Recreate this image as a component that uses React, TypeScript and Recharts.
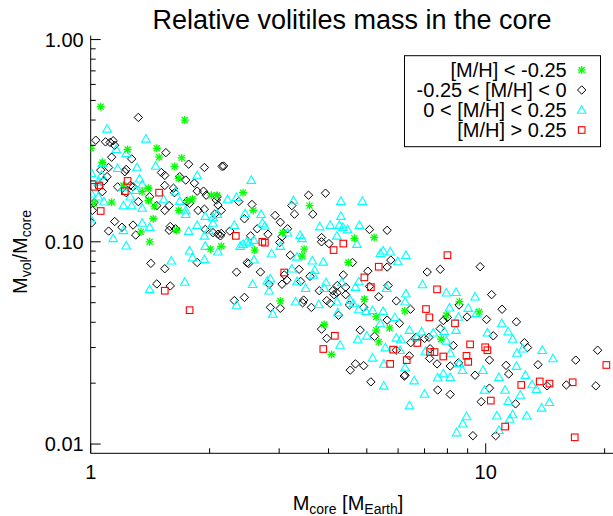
import { ScatterChart, Scatter, XAxis, YAxis } from "recharts";

const FONT = '"Liberation Sans", Arial, Helvetica, sans-serif';

// [M/H] < -0.25
const metalPoor: [number, number][] = [
  [1.06, 0.466], [1.73, 0.4], [1.24, 0.286], [1.47, 0.29], [1.49, 0.262], [1.07, 0.247],
  [1.7, 0.26], [1.63, 0.236], [1.67, 0.206], [1.4, 0.184], [1.35, 0.177], [1.21, 0.19],
  [1.13, 0.157], [1.02, 0.155], [1.45, 0.15], [1.4, 0.16], [1.76, 0.16], [1.81, 0.163],
  [2.02, 0.17], [2.09, 0.17], [2.43, 0.175], [2.58, 0.143], [1.67, 0.143], [1.44, 0.13],
  [1.0, 0.29], [3.58, 0.151], [1.34, 0.112], [1.41, 0.1], [1.65, 0.114], [2.01, 0.092],
  [2.14, 0.095], [2.6, 0.091], [3.06, 0.111], [3.47, 0.092], [3.43, 0.085], [3.02, 0.051],
  [3.9, 0.039], [4.07, 0.0277], [4.65, 0.104], [5.22, 0.105], [4.49, 0.079], [4.93, 0.052],
  [6.24, 0.0455], [5.28, 0.0425], [5.71, 0.0375], [5.28, 0.0366], [5.36, 0.032], [7.71, 0.033],
  [7.95, 0.0433], [8.58, 0.0506], [9.62, 0.045],
];

// -0.25 < [M/H] < 0
const metalLow: [number, number][] = [
  [1.32, 0.412], [1.03, 0.318], [1.09, 0.312], [1.14, 0.316], [1.12, 0.31], [1.15, 0.3],
  [1.13, 0.262], [1.27, 0.257], [1.55, 0.276], [1.77, 0.242], [1.94, 0.233], [2.15, 0.236],
  [2.17, 0.237], [1.11, 0.233], [1.23, 0.228], [1.22, 0.222], [1.06, 0.226], [1.1, 0.21],
  [1.08, 0.2], [1.05, 0.187], [1.07, 0.177], [1.17, 0.187], [1.26, 0.19], [1.28, 0.187],
  [1.23, 0.175], [1.51, 0.22], [1.54, 0.213], [1.68, 0.21], [1.74, 0.202], [1.83, 0.195],
  [1.86, 0.178], [1.93, 0.178], [1.96, 0.17], [2.08, 0.161], [2.1, 0.152], [2.14, 0.143],
  [2.06, 0.137], [1.94, 0.145], [1.62, 0.184], [1.63, 0.175], [1.54, 0.19], [1.41, 0.167],
  [1.32, 0.158], [2.37, 0.158], [2.56, 0.153], [2.45, 0.13], [2.93, 0.135], [3.02, 0.125],
  [1.15, 0.126], [1.28, 0.121], [1.2, 0.118], [1.02, 0.156], [1.01, 0.143], [1.005, 0.124],
  [1.47, 0.151], [1.54, 0.143], [1.58, 0.151], [1.75, 0.158], [1.78, 0.155], [1.87, 0.143],
  [2.09, 0.167], [3.56, 0.17], [3.93, 0.174], [3.23, 0.151], [3.28, 0.137], [3.65, 0.137],
  [3.15, 0.116], [5.08, 0.115], [5.63, 0.114], [1.11, 0.113], [1.3, 0.108], [1.59, 0.119],
  [1.64, 0.116], [1.58, 0.114], [1.95, 0.115], [2.04, 0.111], [2.1, 0.109], [2.14, 0.11],
  [2.13, 0.107], [2.25, 0.113], [2.54, 0.107], [2.64, 0.116], [2.81, 0.109], [3.05, 0.106],
  [3.01, 0.0993], [2.49, 0.0788], [2.51, 0.078], [2.34, 0.0708], [2.69, 0.0709], [3.2, 0.0859],
  [3.37, 0.0731], [3.4, 0.0637], [3.59, 0.0675], [3.09, 0.0686], [3.14, 0.0646], [3.05, 0.0617],
  [2.83, 0.0617], [2.45, 0.0531], [2.31, 0.0512], [2.85, 0.0474], [3.02, 0.0469], [3.46, 0.0515],
  [3.44, 0.0499], [3.62, 0.0474], [3.84, 0.105], [4.01, 0.098], [3.79, 0.0573], [3.96, 0.0512],
  [4.1, 0.0573], [4.13, 0.0548], [4.21, 0.0608], [1.42, 0.0782], [1.54, 0.0736], [1.47, 0.0619],
  [1.59, 0.0605], [1.86, 0.079], [3.84, 0.037], [3.96, 0.0333], [3.84, 0.1], [4.6, 0.079],
  [5.75, 0.0812], [5.63, 0.075], [5.03, 0.0716], [4.36, 0.0686], [4.42, 0.0597], [5.08, 0.0602],
  [5.66, 0.0608], [4.2, 0.056], [4.42, 0.0548], [4.04, 0.0496], [4.52, 0.0487], [4.91, 0.0474],
  [4.24, 0.0433], [5.36, 0.0535], [5.94, 0.051], [6.45, 0.0464], [4.81, 0.0366], [5.23, 0.0341],
  [5.63, 0.041], [6.05, 0.0395], [6.46, 0.0317], [7.11, 0.0709], [7.67, 0.0731], [9.68, 0.0753],
  [10.35, 0.0548], [11.0, 0.0464], [11.96, 0.0402], [10.05, 0.0413], [8.97, 0.0425], [8.56, 0.0487],
  [7.67, 0.0372], [7.18, 0.0337], [6.66, 0.0337], [5.94, 0.0291], [6.41, 0.0273], [6.25, 0.0219],
  [6.22, 0.0217], [7.21, 0.0265], [7.53, 0.0249], [8.13, 0.0243], [8.53, 0.0252], [9.4, 0.0219],
  [10.22, 0.026], [10.22, 0.0189], [11.26, 0.0245], [11.43, 0.0222], [12.53, 0.0317], [12.76, 0.03],
  [13.56, 0.0247], [14.3, 0.0194], [16.0, 0.0196], [16.9, 0.026], [19.0, 0.0194], [19.2, 0.0291],
  [11.9, 0.0158], [9.74, 0.0162], [9.28, 0.011], [10.6, 0.011], [4.54, 0.0232], [4.68, 0.0249],
  [4.91, 0.0244], [5.12, 0.0203], [7.56, 0.0185], [8.13, 0.0176], [7.0, 0.0333], [8.0, 0.0423],
  [7.81, 0.0408], [7.23, 0.0296], [10.45, 0.0343], [8.28, 0.0307],
];

// 0 < [M/H] < 0.25
const metalHigh: [number, number][] = [
  [1.1, 0.362], [1.38, 0.323], [1.16, 0.287], [1.23, 0.274], [1.07, 0.245], [1.17, 0.231],
  [1.31, 0.233], [1.46, 0.237], [1.005, 0.218], [1.065, 0.214], [1.21, 0.187], [1.33, 0.205],
  [1.35, 0.192], [1.3, 0.18], [1.64, 0.177], [1.86, 0.213], [2.55, 0.202], [2.34, 0.166],
  [2.22, 0.162], [1.68, 0.159], [1.53, 0.162], [1.08, 0.158], [1.21, 0.151], [1.27, 0.151],
  [1.35, 0.147], [1.74, 0.137], [1.74, 0.143], [1.95, 0.134], [2.04, 0.132], [2.09, 0.137],
  [2.7, 0.137], [2.46, 0.138], [1.86, 0.121], [2.04, 0.124], [2.31, 0.121], [2.72, 0.124],
  [1.35, 0.124], [1.045, 0.167], [1.045, 0.198], [1.0, 0.13], [1.26, 0.167], [1.005, 0.173],
  [3.26, 0.16], [4.3, 0.159], [4.87, 0.159], [4.3, 0.134], [3.8, 0.119], [4.04, 0.121],
  [4.26, 0.121], [4.79, 0.121], [4.35, 0.118], [4.47, 0.115], [1.41, 0.118], [1.21, 0.114],
  [1.14, 0.104], [1.23, 0.0956], [1.77, 0.113], [1.78, 0.0903], [1.81, 0.0836], [1.94, 0.0819],
  [1.94, 0.107], [1.95, 0.0953], [1.99, 0.114], [2.1, 0.0894], [2.39, 0.0953], [2.43, 0.0974],
  [2.48, 0.1], [2.52, 0.099], [2.59, 0.102], [2.76, 0.12], [2.87, 0.0874], [2.59, 0.0816],
  [2.57, 0.0617], [2.8, 0.0642], [2.85, 0.0657], [2.83, 0.0573], [2.89, 0.044], [2.34, 0.0487],
  [3.02, 0.0953], [3.15, 0.111], [3.23, 0.0736], [3.33, 0.0843], [3.39, 0.108], [3.43, 0.104],
  [3.33, 0.0637], [3.5, 0.059], [3.64, 0.0806], [3.69, 0.0725], [3.66, 0.0686], [3.88, 0.0796],
  [3.94, 0.063], [3.9, 0.059], [3.3, 0.0506], [3.78, 0.049], [4.2, 0.0506], [4.22, 0.0447],
  [4.2, 0.107], [1.41, 0.0582], [1.6, 0.0806], [1.73, 0.0633], [4.28, 0.0309], [4.72, 0.0974],
  [5.5, 0.0903], [5.73, 0.0894], [6.28, 0.0859], [5.99, 0.08], [5.41, 0.0877], [4.32, 0.063],
  [4.77, 0.0636], [4.68, 0.0597], [5.61, 0.059], [6.28, 0.0554], [6.25, 0.0506], [6.92, 0.0615],
  [7.95, 0.056], [8.41, 0.0563], [9.4, 0.0535], [9.03, 0.047], [9.47, 0.0443], [8.1, 0.0472],
  [4.54, 0.0515], [4.62, 0.0496], [4.98, 0.0454], [5.17, 0.0459], [5.5, 0.0454], [4.77, 0.0463],
  [5.0, 0.0343], [4.74, 0.0329], [5.41, 0.0395], [5.89, 0.0423], [5.57, 0.03], [5.17, 0.0267],
  [5.94, 0.0335], [6.1, 0.0329], [6.07, 0.0291], [6.41, 0.0366], [6.68, 0.0337], [6.25, 0.0239],
  [5.52, 0.0249], [6.59, 0.0206], [6.88, 0.0359], [7.03, 0.0287], [7.37, 0.0355], [7.85, 0.0362],
  [8.41, 0.0366], [8.53, 0.0425], [7.95, 0.0324], [8.13, 0.0282], [8.73, 0.0232], [8.57, 0.0251],
  [8.13, 0.0214], [7.81, 0.0223], [7.56, 0.0213], [7.0, 0.0177], [6.41, 0.0155], [5.52, 0.0194],
  [9.84, 0.0232], [9.93, 0.0185], [10.1, 0.0355], [10.98, 0.0395], [11.4, 0.036], [11.7, 0.0331],
  [12.4, 0.0296], [12.0, 0.0282], [11.96, 0.0243], [10.8, 0.0214], [11.2, 0.0185], [12.23, 0.0175],
  [12.6, 0.0219], [11.4, 0.0163], [13.1, 0.0197], [13.44, 0.0187], [14.5, 0.0161], [13.85, 0.0151],
  [14.8, 0.0265], [13.9, 0.0291], [10.67, 0.0138], [11.7, 0.014], [12.7, 0.0138], [11.5, 0.0133],
  [8.94, 0.0137], [8.75, 0.0126], [8.44, 0.0114], [10.8, 0.0117],
];

// [M/H] > 0.25
const metalRich: [number, number][] = [
  [1.02, 0.187], [1.05, 0.19], [1.24, 0.2], [1.22, 0.178], [1.49, 0.175], [1.06, 0.142],
  [1.54, 0.0573], [1.78, 0.0459], [2.33, 0.107], [2.72, 0.1], [2.76, 0.099], [3.09, 0.0705],
  [4.12, 0.091], [3.88, 0.0295], [4.15, 0.0343], [4.36, 0.098], [8.0, 0.0859], [5.36, 0.0753],
  [4.93, 0.0667], [5.12, 0.0597], [7.53, 0.0582], [7.06, 0.0465], [7.2, 0.0423], [6.71, 0.0316],
  [5.83, 0.0293], [5.73, 0.0249], [6.31, 0.026], [7.23, 0.0285], [7.42, 0.0285], [7.81, 0.0271],
  [8.36, 0.0395], [9.13, 0.0311], [9.97, 0.0301], [10.1, 0.0291], [8.94, 0.0273], [9.03, 0.0255],
  [10.3, 0.0164], [11.2, 0.0122], [12.3, 0.0196], [13.7, 0.0204], [14.5, 0.0199], [16.6, 0.0202],
  [16.8, 0.0108], [20.2, 0.0246],
];

const xTicks = [1, 2, 3, 4, 5, 6, 7, 8, 9, 10, 20];
const xMajor = [1, 10];
const yTicks = [
  0.01, 0.02, 0.03, 0.04, 0.05, 0.06, 0.07, 0.08, 0.09,
  0.1, 0.2, 0.3, 0.4, 0.5, 0.6, 0.7, 0.8, 0.9, 1,
];
const yMajor = [0.01, 0.1, 1];

const toPoints = (arr: [number, number][]) => arr.map(([x, y]) => ({ x, y }));

const Asterisk = ({ cx, cy }: any) => (
  <g stroke="#00ff00" strokeWidth={1.3}>
    <line x1={cx - 4} x2={cx + 4} y1={cy} y2={cy} />
    <line x1={cx} x2={cx} y1={cy - 4} y2={cy + 4} />
    <line x1={cx - 3} x2={cx + 3} y1={cy - 3} y2={cy + 3} />
    <line x1={cx - 3} x2={cx + 3} y1={cy + 3} y2={cy - 3} />
  </g>
);

const Diamond = ({ cx, cy }: any) => (
  <polygon
    points={`${cx},${cy - 4.2} ${cx + 4.2},${cy} ${cx},${cy + 4.2} ${cx - 4.2},${cy}`}
    fill="none"
    stroke="#000"
    strokeWidth={1}
  />
);

const Triangle = ({ cx, cy }: any) => (
  <polygon
    points={`${cx},${cy - 4.3} ${cx + 4.3},${cy + 3.3} ${cx - 4.3},${cy + 3.3}`}
    fill="none"
    stroke="#00ffff"
    strokeWidth={1.1}
  />
);

const Square = ({ cx, cy }: any) => (
  <rect x={cx - 3.3} y={cy - 3.3} width={6.6} height={6.6} fill="none" stroke="#ff0000" strokeWidth={1.1} />
);

// ticks point into the plot, majors longer and labelled
const BottomTick = ({ x, y, payload }: any) => {
  const major = xMajor.includes(payload.value);
  return (
    <g>
      <line x1={x} x2={x} y1={y} y2={y - (major ? 10 : 5)} stroke="#000" />
      {major && (
        <text x={x} y={y + 26} textAnchor="middle" fontSize={20} fill="#000" fontFamily={FONT}>
          {payload.value}
        </text>
      )}
    </g>
  );
};

const TopTick = ({ x, y, payload }: any) => {
  const major = xMajor.includes(payload.value);
  return <line x1={x} x2={x} y1={y} y2={y + (major ? 10 : 5)} stroke="#000" />;
};

const LeftTick = ({ x, y, payload }: any) => {
  const major = yMajor.includes(payload.value);
  return (
    <g>
      <line x1={x} x2={x + (major ? 10 : 5)} y1={y} y2={y} stroke="#000" />
      {major && (
        <text x={x - 7} y={y + 7} textAnchor="end" fontSize={20} fill="#000" fontFamily={FONT}>
          {payload.value.toFixed(2)}
        </text>
      )}
    </g>
  );
};

const RightTick = ({ x, y, payload }: any) => {
  const major = yMajor.includes(payload.value);
  return <line x1={x} x2={x - (major ? 10 : 5)} y1={y} y2={y} stroke="#000" />;
};

const legendRows = [
  { label: "[M/H] < -0.25", Marker: Asterisk },
  { label: "-0.25 < [M/H] < 0", Marker: Diamond },
  { label: "0 < [M/H] < 0.25", Marker: Triangle },
  { label: "[M/H] > 0.25", Marker: Square },
];

export default function App() {
  return (
    <div
      style={{
        position: "absolute",
        left: 0,
        top: 0,
        width: 613,
        height: 516,
        overflow: "hidden",
        background: "#fff",
        fontFamily: FONT,
      }}
    >
      <ScatterChart
        width={613}
        height={516}
        margin={{ top: 35.7, right: 0, bottom: 0, left: 0 }}
        style={{ fontFamily: FONT }}
      >
        <XAxis
          dataKey="x"
          type="number"
          scale="log"
          domain={[1, 21]}
          allowDataOverflow
          ticks={xTicks}
          interval={0}
          height={62.7}
          tickSize={0}
          tickMargin={0}
          tickLine={false}
          tick={BottomTick}
          axisLine={{ stroke: "#000" }}
        />
        <XAxis
          xAxisId="top"
          orientation="top"
          type="number"
          scale="log"
          domain={[1, 21]}
          allowDataOverflow
          ticks={xTicks}
          interval={0}
          height={0}
          tickSize={0}
          tickMargin={0}
          tickLine={false}
          tick={TopTick}
          axisLine={{ stroke: "#000" }}
        />
        <YAxis
          dataKey="y"
          type="number"
          scale="log"
          domain={[0.009, 1.045]}
          allowDataOverflow
          ticks={yTicks}
          interval={0}
          width={90.7}
          tickSize={0}
          tickMargin={0}
          tickLine={false}
          tick={LeftTick}
          axisLine={{ stroke: "#000" }}
        />
        <YAxis
          yAxisId="right"
          orientation="right"
          type="number"
          scale="log"
          domain={[0.009, 1.045]}
          allowDataOverflow
          ticks={yTicks}
          interval={0}
          width={0}
          tickSize={0}
          tickMargin={0}
          tickLine={false}
          tick={RightTick}
          axisLine={{ stroke: "#000" }}
        />
        <Scatter data={toPoints(metalLow)} shape={Diamond} isAnimationActive={false} />
        <Scatter data={toPoints(metalHigh)} shape={Triangle} isAnimationActive={false} />
        <Scatter data={toPoints(metalPoor)} shape={Asterisk} isAnimationActive={false} />
        <Scatter data={toPoints(metalRich)} shape={Square} isAnimationActive={false} />
      </ScatterChart>

      <svg
        width={613}
        height={516}
        style={{ position: "absolute", left: 0, top: 0, pointerEvents: "none" }}
        fontFamily={FONT}
      >
        <text x={352} y={29} textAnchor="middle" fontSize={27} fill="#000">
          Relative volitiles mass in the core
        </text>

        <text x={348} y={510} textAnchor="middle" fontSize={20} fill="#000">
          M<tspan fontSize={14} dy={4}>core</tspan>
          <tspan dy={-4}> [M</tspan>
          <tspan fontSize={14} dy={4}>Earth</tspan>
          <tspan dy={-4}>]</tspan>
        </text>

        <text
          x={27}
          y={252}
          transform="rotate(-90, 27, 252)"
          textAnchor="middle"
          fontSize={20}
          fill="#000"
        >
          M<tspan fontSize={14} dy={4}>vol</tspan>
          <tspan dy={-4}>/M</tspan>
          <tspan fontSize={14} dy={4}>core</tspan>
        </text>

        <rect x={404.5} y={55.7} width={196} height={91} fill="#fff" stroke="#000" strokeWidth={1} />
        {legendRows.map(({ label, Marker }, i) => (
          <g key={label}>
            <text x={566.7} y={77 + i * 20} textAnchor="end" fontSize={20} fill="#000">
              {label}
            </text>
            <Marker cx={581.7} cy={70 + i * 20} />
          </g>
        ))}
      </svg>
    </div>
  );
}
